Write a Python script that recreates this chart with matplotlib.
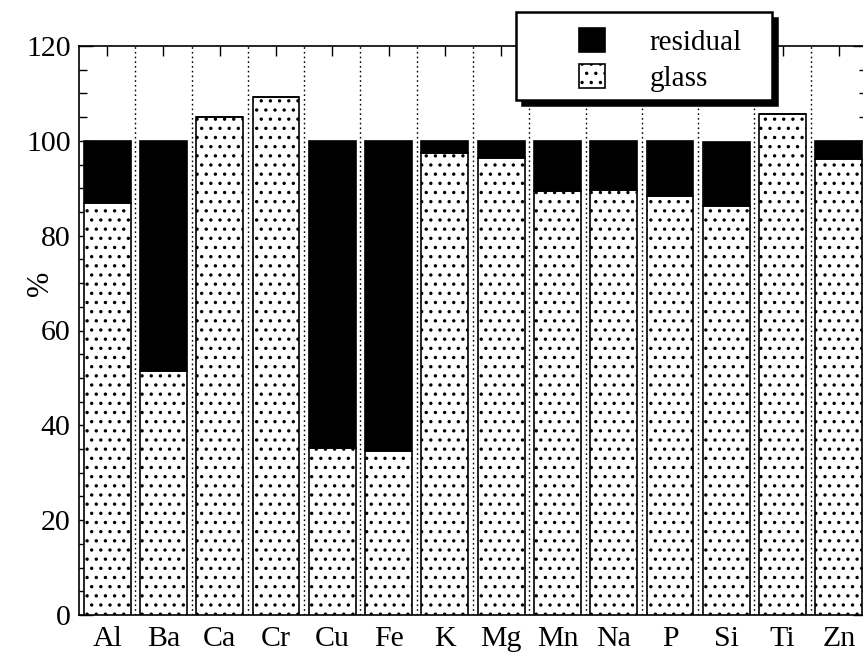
"""
Stacked bar chart: glass / residual fraction per element (%).
"""

import matplotlib
matplotlib.use("Agg")
import matplotlib.pyplot as plt
import matplotlib.patches as patches
from matplotlib.ticker import MultipleLocator

# ============================================================================
# DATA
# ============================================================================

elements = ["Al", "Ba", "Ca", "Cr", "Cu", "Fe", "K", "Mg", "Mn", "Na", "P", "Si", "Ti", "Zn"]
glass = [86.8, 51.5, 105.0, 109.3, 35.3, 34.5, 97.4, 96.4, 89.5, 89.7, 88.4, 86.2, 105.6, 96.2]
residual = [13.2, 48.5, 0.0, 0.0, 64.7, 65.5, 2.6, 3.6, 10.5, 10.3, 11.6, 13.5, 0.0, 3.8]
y_ticks = [0, 20, 40, 60, 80, 100, 120]

# ============================================================================
# FIGURE
# ============================================================================

W, H = 863, 655
DPI = 110          # hatch cell = 1 inch, so dpi sets the dot spacing
S = 100 / DPI      # point sizes below were tuned at dpi 100

plt.rcParams['font.family'] = ['Liberation Serif', 'DejaVu Serif']
plt.rcParams['hatch.linewidth'] = 1.1 * S
plt.rcParams['hatch.color'] = 'black'

fig = plt.figure(figsize=(W / DPI, H / DPI), dpi=DPI)
ax = fig.add_axes([79 / W, 1 - 615 / H, (867 - 79) / W, (615 - 46) / H])

x = list(range(len(elements)))
bar_w = 0.83

ax.bar(x, glass, width=bar_w, facecolor='white', edgecolor='black',
       linewidth=1.2 * S, hatch='..', zorder=3, label='glass')
ax.bar(x, residual, width=bar_w, bottom=glass, facecolor='black',
       edgecolor='black', linewidth=1.2 * S, zorder=3, label='residual')

# dotted separators between categories
for i in range(len(elements) - 1):
    ax.axvline(i + 0.5, color='black', linestyle=(0, (1.2, 2.2)),
               linewidth=1.0 * S, zorder=1)

ax.set_xlim(-0.5, len(elements) - 0.5)
ax.set_ylim(0, 120)
ax.set_yticks(y_ticks)
ax.yaxis.set_minor_locator(MultipleLocator(5))
ax.set_xticks(x)
ax.set_xticklabels(elements)

ax.tick_params(axis='both', which='both', direction='in', top=True, right=True,
               labelsize=21.5 * S, width=1.0 * S)
ax.tick_params(axis='y', which='major', length=10 * S, pad=6 * S)
ax.tick_params(axis='y', which='minor', length=6 * S)
ax.tick_params(axis='x', which='major', length=7 * S, pad=8 * S)
for s in ax.spines.values():
    s.set_linewidth(1.2 * S)

ax.set_ylabel('%', fontsize=22 * S, rotation=90)
ax.yaxis.set_label_coords((55 - 79) / (867 - 79), 0.583)

# ============================================================================
# LEGEND (box with solid drop shadow)
# ============================================================================

bx0, by0, bx1, by1 = 516, 12, 772, 100   # pixel box
shadow = patches.Rectangle((bx0 / W + 6 / W, 1 - (by1 + 6) / H),
                           (bx1 - bx0) / W, (by1 - by0) / H,
                           transform=fig.transFigure, facecolor='black',
                           edgecolor='black', zorder=10)
frame = patches.Rectangle((bx0 / W, 1 - by1 / H), (bx1 - bx0) / W, (by1 - by0) / H,
                          transform=fig.transFigure, facecolor='white',
                          edgecolor='black', linewidth=1.8 * S, zorder=11)
fig.patches.extend([shadow, frame])

handles, labels = ax.get_legend_handles_labels()
leg = fig.legend(handles[::-1], labels[::-1], loc='upper left',
                 bbox_to_anchor=(579 / W, 1 - 28 / H), bbox_transform=fig.transFigure,
                 frameon=False, fontsize=21 * S, handlelength=0.88, handleheight=0.88,
                 handletextpad=1.55, labelspacing=0.27, borderpad=0, borderaxespad=0)
leg.set_zorder(12)

fig.savefig('out.png', dpi=DPI)
